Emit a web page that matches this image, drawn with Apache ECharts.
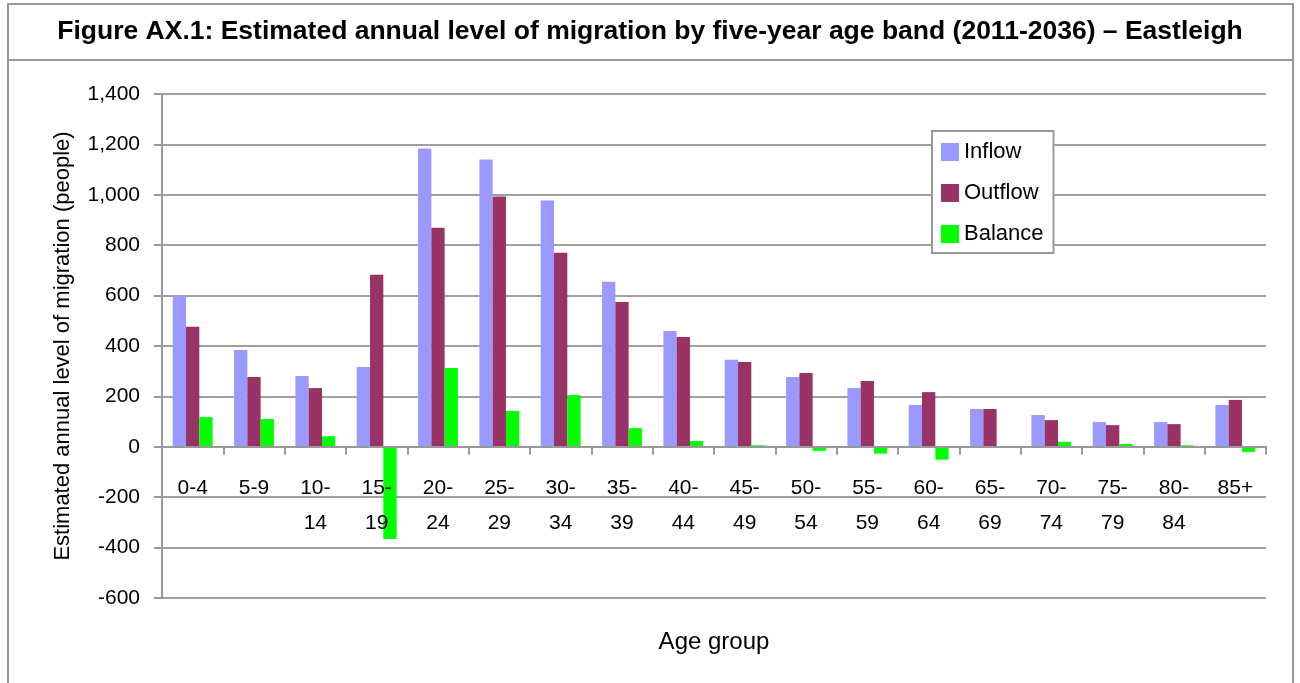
<!DOCTYPE html>
<html>
<head>
<meta charset="utf-8">
<script src="https://cdn.jsdelivr.net/npm/echarts@6/dist/echarts.min.js"></script>
<style>
html,body{margin:0;padding:0;background:#fff;}
#chart{width:1300px;height:683px;}
</style>
</head>
<body>
<div id="chart"></div>
<script>
var categories = ['0-4','5-9','10-\n14','15-\n19','20-\n24','25-\n29','30-\n34','35-\n39','40-\n44','45-\n49','50-\n54','55-\n59','60-\n64','65-\n69','70-\n74','75-\n79','80-\n84','85+'];
var inflow  = [598, 384, 281, 317, 1184, 1140, 977, 655, 460, 345, 277, 233, 166, 150, 126, 98, 98, 166];
var outflow = [476, 277, 233, 683, 869, 993, 770, 575, 436, 337, 293, 261, 217, 150, 106, 86, 90, 186];
var balance = [118, 110, 42, -366, 313, 142, 205, 74, 23, 6, -16, -27, -51, 0, 20, 11, 6, -20];
var yTicks = {min: -600, max: 1400, interval: 200};

var FONT = '"Liberation Sans", Arial, sans-serif';
var chart = echarts.init(document.getElementById('chart'), null, {renderer: 'canvas'});
var option = {
  animation: false,
  backgroundColor: '#fff',
  title: {
    text: 'Figure AX.1: Estimated annual level of migration by five-year age band (2011-2036) \u2013 Eastleigh',
    left: 'center', top: 13,
    textStyle: {fontFamily: FONT, fontWeight: 'bold', fontSize: 26.5, color: '#000'}
  },
  graphic: [
    {type: 'rect', shape: {x: 8, y: 4, width: 1285, height: 690}, style: {fill: 'none', stroke: '#999', lineWidth: 2}, silent: true},
    {type: 'line', shape: {x1: 8, y1: 60, x2: 1293, y2: 60}, style: {stroke: '#999', lineWidth: 2}, silent: true}
  ],
  legend: {
    orient: 'vertical', left: 932, top: 131,
    data: ['Inflow', 'Outflow', 'Balance'],
    backgroundColor: '#fff', borderColor: '#999', borderWidth: 2,
    padding: [10, 10, 8, 9],
    itemWidth: 18, itemHeight: 18, itemGap: 19,
    icon: 'rect',
    textStyle: {fontFamily: FONT, fontSize: 22, color: '#000'}
  },
  grid: {left: 162, right: 34, top: 94, bottom: 85, containLabel: false, outerBoundsMode: 'none'},
  xAxis: {
    type: 'category', data: categories, z: 10,
    name: 'Age group', nameLocation: 'middle', nameGap: 32,
    nameTextStyle: {fontFamily: FONT, fontSize: 24, color: '#000'},
    axisLine: {onZero: true, lineStyle: {color: '#999', width: 2}},
    axisTick: {show: true, length: 8, lineStyle: {color: '#999', width: 2}},
    axisLabel: {fontFamily: FONT, fontSize: 21, color: '#000', margin: -127, lineHeight: 35, interval: 0, verticalAlign: 'top'},
    splitLine: {show: false}
  },
  yAxis: {
    type: 'value', min: yTicks.min, max: yTicks.max, interval: yTicks.interval,
    name: 'Estimated annual level of migration (people)', nameLocation: 'middle', nameGap: 88,
    nameTextStyle: {fontFamily: FONT, fontSize: 22, color: '#000'},
    axisLine: {show: true, lineStyle: {color: '#999', width: 2}},
    axisTick: {show: true, length: 8, lineStyle: {color: '#999', width: 2}},
    axisLabel: {fontFamily: FONT, fontSize: 21, color: '#000', margin: 22,
      formatter: function (v) { return v.toLocaleString('en-US'); }},
    splitLine: {show: true, lineStyle: {color: '#A0A0A0', width: 2}}
  },
  series: [
    {name: 'Inflow', type: 'bar', data: inflow, itemStyle: {color: '#9999FF'}, barGap: '0%', barCategoryGap: '35%'},
    {name: 'Outflow', type: 'bar', data: outflow, itemStyle: {color: '#993366'}, barGap: '0%', barCategoryGap: '35%'},
    {name: 'Balance', type: 'bar', data: balance, itemStyle: {color: '#00FF00'}, barGap: '0%', barCategoryGap: '35%'}
  ]
};
chart.setOption(option);
</script>
</body>
</html>
